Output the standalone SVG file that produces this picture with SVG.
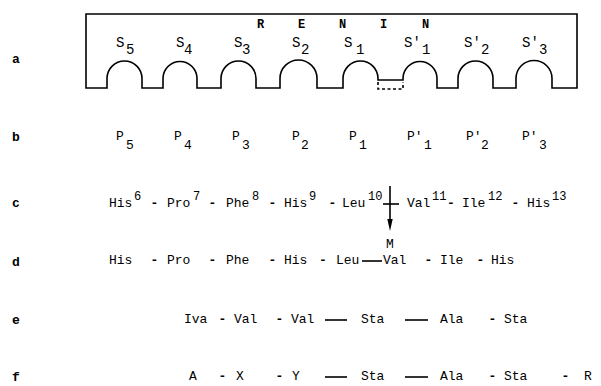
<svg xmlns="http://www.w3.org/2000/svg" width="601" height="386" viewBox="0 0 601 386">
<style>
text { font-family: "Liberation Mono", "DejaVu Sans Mono", monospace; font-size: 13px; fill: #000; }
.lab { font-weight: bold; }
.big { font-size: 14px; }
.ren { font-size: 12px; font-weight: bold; }
.sup { font-size: 12px; }
.d { text-anchor: middle; font-weight: bold; }
.ln { stroke: #000; stroke-width: 1.6; fill: none; }
</style>
<rect width="601" height="386" fill="#fff"/>

<g id="labels">
<text class="lab" x="12" y="63">a</text>
<text class="lab" x="12" y="141">b</text>
<text class="lab" x="12" y="207">c</text>
<text class="lab" x="12" y="266">d</text>
<text class="lab" x="12" y="324">e</text>
<text class="lab" x="12" y="381">f</text>
</g>

<g id="renin">
<path class="ln" stroke-width="1.8" d="M86,88 L86,14 L577,14 L577,88 L552,88 L552,78.5 A18,18 0 0 0 516,78.5 L516,88 L493,88 L493,78.5 A17.5,17.5 0 0 0 458,78.5 L458,88 L437,88 L437,78.5 A17,17 0 0 0 403,78.5 L403,80 L378,80 L378,78.5 A17.5,17.5 0 0 0 343,78.5 L343,88 L317,88 L317,78.5 A18.5,18.5 0 0 0 280,78.5 L280,88 L256,88 L256,78.5 A17.5,17.5 0 0 0 221,78.5 L221,88 L197,88 L197,78.5 A17,17 0 0 0 163,78.5 L163,88 L142,88 L142,78.5 A17.5,17.5 0 0 0 107,78.5 L107,88 Z"/>
<path class="ln" stroke-width="1.4" stroke-dasharray="3 2.5" d="M378,82 L378,89 L403,89 L403,82"/>
<text class="ren" x="257" y="28">R</text>
<text class="ren" x="298" y="28">E</text>
<text class="ren" x="339" y="28">N</text>
<text class="ren" x="380" y="28">I</text>
<text class="ren" x="422" y="28">N</text>
<text class="big" x="116" y="47">S<tspan x="126" y="54">5</tspan></text>
<text class="big" x="176" y="47">S<tspan x="184" y="54">4</tspan></text>
<text class="big" x="234" y="47">S<tspan x="242" y="54">3</tspan></text>
<text class="big" x="292" y="47">S<tspan x="301" y="54">2</tspan></text>
<text class="big" x="344" y="47">S<tspan x="356" y="54">1</tspan></text>
<text class="big" x="404" y="47">S'<tspan x="422" y="54">1</tspan></text>
<text class="big" x="464" y="47">S'<tspan x="481" y="54">2</tspan></text>
<text class="big" x="522" y="47">S'<tspan x="539" y="54">3</tspan></text>
</g>

<g id="row-b">
<text x="116" y="140">P<tspan x="126" y="149">5</tspan></text>
<text x="174" y="140">P<tspan x="184" y="149">4</tspan></text>
<text x="232" y="140">P<tspan x="242" y="149">3</tspan></text>
<text x="292" y="140">P<tspan x="301" y="149">2</tspan></text>
<text x="349" y="140">P<tspan x="359" y="149">1</tspan></text>
<text x="407" y="140">P'<tspan x="424" y="149">1</tspan></text>
<text x="466" y="140">P'<tspan x="481" y="149">2</tspan></text>
<text x="522" y="140">P'<tspan x="539" y="149">3</tspan></text>
</g>

<g id="row-c">
<text x="109" y="207">His<tspan class="sup" x="134" y="200">6</tspan></text>
<text class="d" x="154.5" y="207">-</text>
<text x="167" y="207">Pro<tspan class="sup" x="193" y="200">7</tspan></text>
<text class="d" x="212.5" y="207">-</text>
<text x="226" y="207">Phe<tspan class="sup" x="252" y="200">8</tspan></text>
<text class="d" x="272.5" y="207">-</text>
<text x="284" y="207">His<tspan class="sup" x="309" y="200">9</tspan></text>
<text class="d" x="332.5" y="207">-</text>
<text x="342" y="207">Leu<tspan class="sup" x="368" y="200">10</tspan></text>
<text x="407" y="207">Val<tspan class="sup" x="432" y="200">11</tspan></text>
<text class="d" x="451" y="207">-</text>
<text x="462" y="207">Ile<tspan class="sup" x="488" y="200">12</tspan></text>
<text class="d" x="515.5" y="207">-</text>
<text x="527" y="207">His<tspan class="sup" x="552" y="200">13</tspan></text>
</g>

<g id="row-d">
<text x="109" y="264">His</text>
<text class="d" x="154.5" y="264">-</text>
<text x="167" y="264">Pro</text>
<text class="d" x="212.5" y="264">-</text>
<text x="226" y="264">Phe</text>
<text class="d" x="272.5" y="264">-</text>
<text x="284" y="264">His</text>
<text class="d" x="323" y="264">-</text>
<text x="336" y="264">Leu</text>
<text x="383" y="264">Val</text>
<text class="d" x="428.5" y="264">-</text>
<text x="440" y="264">Ile</text>
<text class="d" x="480.5" y="264">-</text>
<text x="491" y="264">His</text>
<text x="386" y="248" font-size="11">M</text>
</g>

<g id="row-e">
<text x="184" y="323">Iva</text>
<text class="d" x="222.5" y="323">-</text>
<text x="234" y="323">Val</text>
<text class="d" x="279.5" y="323">-</text>
<text x="291" y="323">Val</text>
<text x="361" y="323">Sta</text>
<text x="440" y="323">Ala</text>
<text class="d" x="492.5" y="323">-</text>
<text x="504" y="323">Sta</text>
</g>

<g id="row-f">
<text x="189" y="380">A</text>
<text class="d" x="222.5" y="380">-</text>
<text x="236" y="380">X</text>
<text class="d" x="279.5" y="380">-</text>
<text x="292" y="380">Y</text>
<text x="361" y="380">Sta</text>
<text x="440" y="380">Ala</text>
<text class="d" x="492.5" y="380">-</text>
<text x="504" y="380">Sta</text>
<text class="d" x="565.5" y="380">-</text>
<text x="584" y="380">R</text>
</g>

<g id="connectors">
<line class="ln" x1="390" y1="186" x2="390" y2="220"/>
<polygon points="387.3,219 392.7,219 390,231" fill="#000"/>
<line class="ln" x1="383" y1="204" x2="399" y2="204"/>
<line class="ln" x1="362" y1="261" x2="382" y2="261"/>
<line class="ln" x1="325" y1="320" x2="347" y2="320"/>
<line class="ln" x1="405" y1="320" x2="428" y2="320"/>
<line class="ln" x1="325" y1="377" x2="347" y2="377"/>
<line class="ln" x1="405" y1="377" x2="428" y2="377"/>
</g>
</svg>
